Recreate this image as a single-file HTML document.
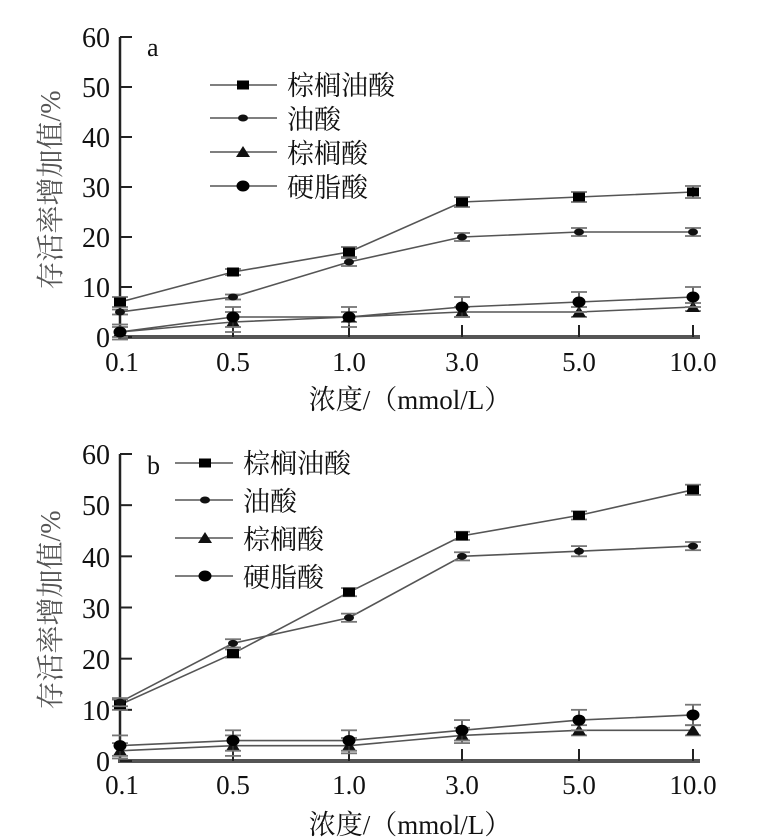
<!DOCTYPE html>
<html><head><meta charset="utf-8"><style>
html,body{margin:0;padding:0;background:#fff;}
svg{display:block;}
text{font-family:"Liberation Serif","Noto Serif CJK SC",serif;fill:#111;}
.cj{font-family:"Liberation Serif","Noto Serif CJK SC","Noto Sans CJK SC",serif;}
</style></head><body>
<svg id="s" width="776" height="840" viewBox="0 0 776 840" xmlns="http://www.w3.org/2000/svg">
<g font-size="28" text-anchor="end">
<text x="110" y="47">60</text><text x="110" y="97">50</text><text x="110" y="147">40</text>
<text x="110" y="197">30</text><text x="110" y="247">20</text><text x="110" y="297">10</text><text x="110" y="347">0</text>
</g>
<text x="147" y="56" font-size="26">a</text>
<g font-size="27" text-anchor="middle">
<text x="122" y="371">0.1</text><text x="233" y="371">0.5</text><text x="349" y="371">1.0</text>
<text x="462" y="371">3.0</text><text x="579" y="371">5.0</text><text x="693" y="371">10.0</text>
</g>
<text class="cj" x="410" y="409" font-size="27" text-anchor="middle">浓度/（mmol/L）</text>
<text class="cj" transform="translate(60,190) rotate(-90)" font-size="28" text-anchor="middle" style="fill:#555">存活率增加值/%</text>
<g class="cj" font-size="27">
<text x="287" y="95">棕榈油酸</text><text x="287" y="129">油酸</text><text x="287" y="163">棕榈酸</text><text x="287" y="197">硬脂酸</text>
</g>
<g font-size="28" text-anchor="end">
<text x="110" y="464">60</text><text x="110" y="515">50</text><text x="110" y="567">40</text>
<text x="110" y="618">30</text><text x="110" y="669">20</text><text x="110" y="720">10</text><text x="110" y="771">0</text>
</g>
<text x="147" y="474" font-size="26">b</text>
<g font-size="27" text-anchor="middle">
<text x="122" y="794">0.1</text><text x="233" y="794">0.5</text><text x="349" y="794">1.0</text>
<text x="462" y="794">3.0</text><text x="579" y="794">5.0</text><text x="693" y="794">10.0</text>
</g>
<text class="cj" x="410" y="834" font-size="27" text-anchor="middle">浓度/（mmol/L）</text>
<text class="cj" transform="translate(60,610) rotate(-90)" font-size="28" text-anchor="middle" style="fill:#555">存活率增加值/%</text>
<g class="cj" font-size="27">
<text x="243" y="473">棕榈油酸</text><text x="243" y="511">油酸</text><text x="243" y="549">棕榈酸</text><text x="243" y="587">硬脂酸</text>
</g>
<g id="g"></g>
</svg>
<script>
var NS="http://www.w3.org/2000/svg",g=document.getElementById("g");
function el(t,a){var e=document.createElementNS(NS,t);for(var k in a)e.setAttribute(k,a[k]);g.appendChild(e);return e;}
var X=[120,233,349,462,579,693];
function marker(type,x,y){
 if(type==0){el("rect",{x:x-6,y:y-4.5,width:12,height:9,fill:"#000"});}
 else if(type==1){el("ellipse",{cx:x,cy:y,rx:5,ry:3.5,fill:"#111"});}
 else if(type==2){el("polygon",{points:(x-7)+","+(y+5)+" "+(x+7)+","+(y+5)+" "+x+","+(y-6),fill:"#111"});}
 else {el("ellipse",{cx:x,cy:y,rx:6.5,ry:5.5,fill:"#000"});}
}
function panel(y0,y60,data,err,leg){
 var sc=(y0-y60)/60;function Y(v){return y0-v*sc;}
 el("line",{x1:120,y1:y60,x2:120,y2:y0,stroke:"#222","stroke-width":2.5});
 el("line",{x1:118,y1:y0,x2:700,y2:y0,stroke:"#555","stroke-width":4});
 for(var i=0;i<=6;i++)el("line",{x1:120,y1:Y(i*10),x2:132,y2:Y(i*10),stroke:"#222","stroke-width":2});
 for(var i=1;i<6;i++)el("line",{x1:X[i],y1:y0,x2:X[i],y2:y0-12,stroke:"#222","stroke-width":2});
 data.forEach(function(d,k){
  var pts=d.map(function(v,i){return X[i]+","+Y(v);}).join(" ");
  el("polyline",{points:pts,fill:"none",stroke:"#555","stroke-width":1.6});
  d.forEach(function(v,i){var e=err[k][i]*sc;
   el("line",{x1:X[i],y1:Y(v)-e,x2:X[i],y2:Y(v)+e,stroke:"#333","stroke-width":1.5});
   el("line",{x1:X[i]-8,y1:Y(v)-e,x2:X[i]+8,y2:Y(v)-e,stroke:"#777","stroke-width":1.8});
   el("line",{x1:X[i]-8,y1:Y(v)+e,x2:X[i]+8,y2:Y(v)+e,stroke:"#777","stroke-width":1.8});
   marker(k,X[i],Y(v));
  });
 });
 leg.ys.forEach(function(y,k){
  el("line",{x1:leg.x1,y1:y,x2:leg.x2,y2:y,stroke:"#555","stroke-width":1.6});
  marker(k,leg.m,y);
 });
}
panel(337,37,
 [[7,13,17,27,28,29],[5,8,15,20,21,21],[1,3,4,5,5,6],[1,4,4,6,7,8]],
 [[1,0.6,1,1,1,1.2],[0.5,0.5,0.8,0.8,0.8,0.8],[1.5,2,1,1,1,0.8],[1,2,2,2,2,2]],
 {x1:210,x2:277,m:243,ys:[85,118,152,186]});
panel(761,454,
 [[11,21,33,44,48,53],[11.5,23,28,40,41,42],[2,3,3,5,6,6],[3,4,4,6,8,9]],
 [[1,0.8,0.8,0.8,0.8,1],[0.8,0.8,0.8,0.8,1,0.8],[1.5,2,1.5,1.5,1,1],[2,2,2,2,2,2]],
 {x1:175,x2:233,m:205,ys:[463,500,538,576]});
</script>
</body></html>
